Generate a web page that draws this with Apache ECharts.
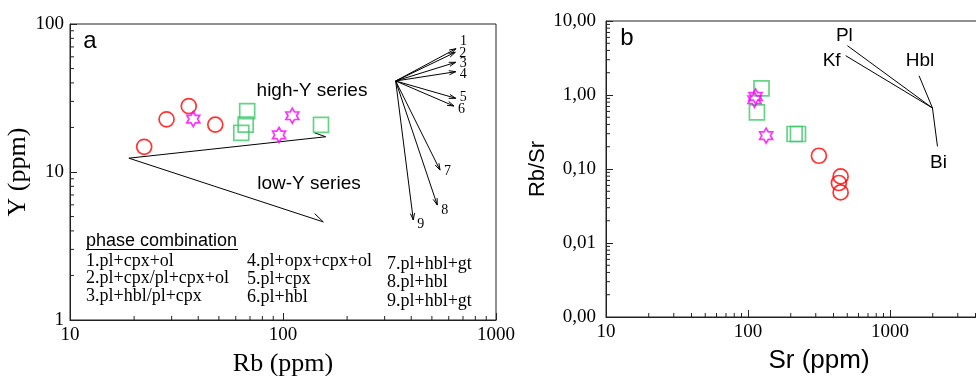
<!DOCTYPE html>
<html><head><meta charset="utf-8">
<script src="https://cdn.jsdelivr.net/npm/echarts@6/dist/echarts.min.js"></script>
<style>html,body{margin:0;padding:0;background:#fff}#c{width:976px;height:376px}</style>
</head><body><div id="c"></div>
<script>
// ---------- Panel a : Rb (ppm) vs Y (ppm) ----------
const aCircleRb = [22.3, 28.4, 36.1, 48.1];
const aCircleY  = [14.8, 22.7, 27.9, 20.9];
const aSquareRb = [67.9, 66.8, 63.7, 150.8];
const aSquareY  = [25.8, 20.9, 18.4, 20.8];
const aStarRb   = [37.9, 95.8, 110.6];
const aStarY    = [22.8, 17.8, 24.0];
const trendOrigin = [18.9, 12.4];
const trendEndRb  = [158.6, 154.6];
const trendEndY   = [17.3, 4.6];
const fanOrigin = [338, 41.2];
const fanEndRb  = [649, 644, 647, 647, 647, 635, 546, 530, 409];
const fanEndY   = [68.1, 64.4, 55.1, 47.6, 31.5, 27.9, 10.3, 5.98, 4.74];
const fanLabels = ['1', '2', '3', '4', '5', '6', '7', '8', '9'];
const phaseTitle = 'phase combination';
const phaseList = ['1.pl+cpx+ol', '2.pl+cpx/pl+cpx+ol', '3.pl+hbl/pl+cpx',
                   '4.pl+opx+cpx+ol', '5.pl+cpx', '6.pl+hbl',
                   '7.pl+hbl+gt', '8.pl+hbl', '9.pl+hbl+gt'];
// ---------- Panel b : Sr (ppm) vs Rb/Sr ----------
const bCircleSr   = [315.7, 449, 436.5, 449];
const bCircleRbSr = [0.151, 0.0794, 0.0647, 0.0483];
const bSquareSr   = [124.5, 115.6, 212.9, 224.9];
const bSquareRbSr = [1.23, 0.582, 0.297, 0.297];
const bStarSr     = [113, 111.1, 134.2];
const bStarRbSr   = [0.957, 0.863, 0.282];
const vecOrigin   = [1991, 0.667];
const vecEndSr    = [501, 487, 1602, 2159];
const vecEndRbSr  = [4.64, 3.40, 1.82, 0.202];
const vecLabels   = ['Pl', 'Kf', 'Hbl', 'Bi'];
// minor tick multipliers and decades
const minorMult = [2, 3, 4, 5, 6, 7, 8, 9];
const aXDecades = [10, 100];
const aYDecades = [1, 10];
const bXDecades = [10, 100, 1000];
const bYDecades = [0.001, 0.01, 0.1, 1];

// ---------- layout / style ----------
const SERIF = '"Liberation Serif", "Times New Roman", serif';
const SANS = '"Liberation Sans", Arial, sans-serif';
const RED = '#ff0000', GREEN = '#3ec86a', MAGENTA = '#ff00ff';
const STAR = 'path://M0,-10L2.887,-5L8.66,-5L5.774,0L8.66,5L2.887,5L0,10L-2.887,5L-8.66,5L-5.774,0L-8.66,-5L-2.887,-5Z';
const fanLabelDy = [-7, 1, 1, 3, -1, 3, 1, 5, 4];
const vecLabelOff = [[-3, -10], [-14, 5], [1, -15], [1, 16]];

const zip = (xs, ys) => xs.map((x, i) => [x, ys[i]]);
const expand = (decs) => decs.flatMap(d => minorMult.map(m => +(m * d).toPrecision(3)));

function arrowChildren(api, o, e, barbs, len, ang) {
  const p0 = api.coord(o), p1 = api.coord(e);
  const dx = p0[0] - p1[0], dy = p0[1] - p1[1], L = Math.hypot(dx, dy);
  const ux = dx / L, uy = dy / L;
  const st = { stroke: '#000', lineWidth: 1 };
  const ch = [{ type: 'line', shape: { x1: p0[0], y1: p0[1], x2: p1[0], y2: p1[1] }, style: st }];
  barbs.forEach(s => {
    const a = s * ang, c = Math.cos(a), sn = Math.sin(a);
    const bx = ux * c - uy * sn, by = ux * sn + uy * c;
    ch.push({ type: 'line', shape: { x1: p1[0], y1: p1[1], x2: p1[0] + bx * len, y2: p1[1] + by * len }, style: st });
  });
  return ch;
}

function minorTickSeries(xi, yi, values, dir, crossVal) {
  return {
    type: 'custom', xAxisIndex: xi, yAxisIndex: yi, silent: true, z: 1, clip: false,
    data: values.map(v => [v]),
    renderItem: (params, api) => {
      const v = api.value(0);
      const p = dir === 'x' ? api.coord([v, crossVal]) : api.coord([crossVal, v]);
      const shape = dir === 'x'
        ? { x1: p[0], y1: p[1], x2: p[0], y2: p[1] - 4 }
        : { x1: p[0], y1: p[1], x2: p[0] + 4, y2: p[1] };
      return { type: 'line', shape, style: { stroke: '#222', lineWidth: 1 } };
    }
  };
}

const axisCommon = {
  type: 'log', logBase: 10,
  axisLine: { show: true, lineStyle: { color: '#222', width: 1 } },
  axisTick: { show: true, inside: true, length: 7, lineStyle: { color: '#222' } },
  splitLine: { show: false },
  axisLabel: { fontFamily: SERIF, fontSize: 19, color: '#000', formatter: v => String(v) },
  nameLocation: 'middle'
};

const scatterCommon = { type: 'scatter', itemStyle: { color: 'rgba(0,0,0,0)', borderWidth: 1.7 }, z: 5 };

const textG = (x, y, text, font, align) => ({
  type: 'text', x, y, silent: true,
  style: { text, font, fill: '#000', align: align || 'left', verticalAlign: 'middle', textAlign: align || 'left', textVerticalAlign: 'middle' }
});

const legendPos = [[86, 261], [86, 278.5], [86, 296], [247, 261], [247, 279], [247, 297], [387, 264], [387, 282.5], [387, 301]];

const option = {
  animation: false,
  backgroundColor: '#fff',
  grid: [
    { left: 70, top: 24, width: 426, height: 296, show: true, borderColor: '#222', borderWidth: 1, backgroundColor: 'transparent', outerBoundsMode: 'none', containLabel: false },
    { left: 606, top: 21, width: 426, height: 296, show: true, borderColor: '#222', borderWidth: 1, backgroundColor: 'transparent', outerBoundsMode: 'none', containLabel: false }
  ],
  xAxis: [
    Object.assign({}, axisCommon, { gridIndex: 0, min: 10, max: 1000, name: 'Rb (ppm)', nameGap: 31,
      nameTextStyle: { fontFamily: SERIF, fontSize: 26, color: '#000' },
      axisLabel: Object.assign({}, axisCommon.axisLabel, { margin: 6 }) }),
    Object.assign({}, axisCommon, { gridIndex: 1, min: 10, max: 10000, name: 'Sr (ppm)', nameGap: 31,
      nameTextStyle: { fontFamily: SANS, fontSize: 26, color: '#000' },
      axisLabel: Object.assign({}, axisCommon.axisLabel, { margin: 6 }) })
  ],
  yAxis: [
    Object.assign({}, axisCommon, { gridIndex: 0, min: 1, max: 100, name: 'Y (ppm)', nameGap: 33,
      nameTextStyle: { fontFamily: SERIF, fontSize: 26, color: '#000' },
      axisLabel: Object.assign({}, axisCommon.axisLabel, { margin: 6 }) }),
    Object.assign({}, axisCommon, { gridIndex: 1, min: 0.001, max: 10, name: 'Rb/Sr', nameGap: 51,
      nameTextStyle: { fontFamily: SANS, fontSize: 22, color: '#000' },
      axisLabel: Object.assign({}, axisCommon.axisLabel, { margin: 10, formatter: v => v.toFixed(2).replace('.', ',') }) })
  ],
  series: [
    minorTickSeries(0, 0, expand(aXDecades), 'x', 1),
    minorTickSeries(0, 0, expand(aYDecades), 'y', 10),
    minorTickSeries(1, 1, expand(bXDecades), 'x', 0.001),
    minorTickSeries(1, 1, expand(bYDecades), 'y', 10),
    { // high-Y / low-Y trends
      type: 'custom', xAxisIndex: 0, yAxisIndex: 0, silent: true, z: 3,
      data: zip(trendEndRb, trendEndY),
      renderItem: (params, api) => ({ type: 'group', children: arrowChildren(api, trendOrigin, [api.value(0), api.value(1)], [1], 12, 0.45) })
    },
    { // phase fan vectors
      type: 'custom', xAxisIndex: 0, yAxisIndex: 0, silent: true, z: 3,
      data: zip(fanEndRb, fanEndY),
      renderItem: (params, api) => {
        const e = [api.value(0), api.value(1)];
        const ch = arrowChildren(api, fanOrigin, e, [1, -1], 7, 0.3);
        const p = api.coord(e);
        ch.push({ type: 'text', x: p[0] + 4, y: p[1] + fanLabelDy[params.dataIndex],
          style: { text: fanLabels[params.dataIndex], font: '14px ' + SERIF, fill: '#000', align: 'left', verticalAlign: 'middle' } });
        return { type: 'group', children: ch };
      }
    },
    { // mineral vectors panel b
      type: 'custom', xAxisIndex: 1, yAxisIndex: 1, silent: true, z: 3,
      data: zip(vecEndSr, vecEndRbSr),
      renderItem: (params, api) => {
        const e = [api.value(0), api.value(1)];
        const ch = arrowChildren(api, vecOrigin, e, [], 0, 0);
        const p = api.coord(e), off = vecLabelOff[params.dataIndex];
        ch.push({ type: 'text', x: p[0] + off[0], y: p[1] + off[1],
          style: { text: vecLabels[params.dataIndex], font: '19px ' + SANS, fill: '#000', align: 'center', verticalAlign: 'middle' } });
        return { type: 'group', children: ch };
      }
    },
    Object.assign({}, scatterCommon, { xAxisIndex: 0, yAxisIndex: 0, symbol: 'circle', symbolSize: 15, data: zip(aCircleRb, aCircleY), itemStyle: Object.assign({}, scatterCommon.itemStyle, { borderColor: RED }) }),
    Object.assign({}, scatterCommon, { xAxisIndex: 0, yAxisIndex: 0, symbol: 'rect', symbolSize: 15, data: zip(aSquareRb, aSquareY), itemStyle: Object.assign({}, scatterCommon.itemStyle, { borderColor: GREEN }) }),
    Object.assign({}, scatterCommon, { xAxisIndex: 0, yAxisIndex: 0, symbol: STAR, symbolKeepAspect: true, symbolSize: 15, data: zip(aStarRb, aStarY), itemStyle: Object.assign({}, scatterCommon.itemStyle, { borderColor: MAGENTA }) }),
    Object.assign({}, scatterCommon, { xAxisIndex: 1, yAxisIndex: 1, symbol: 'circle', symbolSize: 15, data: zip(bCircleSr, bCircleRbSr), itemStyle: Object.assign({}, scatterCommon.itemStyle, { borderColor: RED }) }),
    Object.assign({}, scatterCommon, { xAxisIndex: 1, yAxisIndex: 1, symbol: 'rect', symbolSize: 15, data: zip(bSquareSr, bSquareRbSr), itemStyle: Object.assign({}, scatterCommon.itemStyle, { borderColor: GREEN }) }),
    Object.assign({}, scatterCommon, { xAxisIndex: 1, yAxisIndex: 1, symbol: STAR, symbolKeepAspect: true, symbolSize: 15, data: zip(bStarSr, bStarRbSr), itemStyle: Object.assign({}, scatterCommon.itemStyle, { borderColor: MAGENTA }) })
  ],
  graphic: [
    textG(90, 41, 'a', '24px ' + SANS, 'center'),
    textG(627, 38, 'b', '24px ' + SANS, 'center'),
    textG(312, 91, 'high-Y series', '19px ' + SANS, 'center'),
    textG(309, 184, 'low-Y series', '19px ' + SANS, 'center'),
    textG(86, 241, phaseTitle, '18px ' + SANS, 'left'),
    { type: 'line', silent: true, shape: { x1: 86, y1: 249.5, x2: 238, y2: 249.5 }, style: { stroke: '#000', lineWidth: 1 } }
  ].concat(phaseList.map((t, i) => textG(legendPos[i][0], legendPos[i][1], t, '18px ' + SERIF, 'left')))
};

const chart = echarts.init(document.getElementById('c'), null, { renderer: 'canvas' });
chart.setOption(option);
</script>
</body></html>
